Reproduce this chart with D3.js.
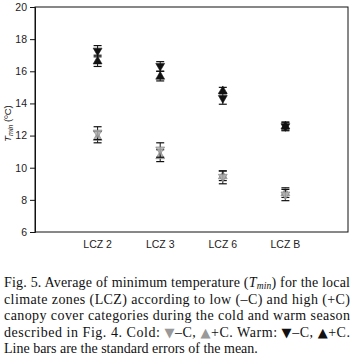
<!DOCTYPE html>
<html>
<head>
<meta charset="utf-8">
<script src="https://cdn.jsdelivr.net/npm/d3@7"></script>
<style>
  body { margin: 0; background: #fff; }
  svg { display: block; }
  .tick-label { font-family: "Liberation Sans", Arial, sans-serif; font-size: 10.5px; fill: #222; }
  .caption { font-family: "Liberation Serif", "Times New Roman", serif; font-size: 14px; fill: #111; }
</style>
</head>
<body>
<div id="wrapper"></div>
<script>
// categories and series (Tmin, degC)
const categories = ["LCZ 2", "LCZ 3", "LCZ 6", "LCZ B"];
const yTicks = [6, 8, 10, 12, 14, 16, 18, 20];

// warm season, low canopy cover (-C), black down triangle
const warmLow = [17.25, 16.3, 14.3, 12.55];
const warmLowSe = [0.35, 0.3, 0.35, 0.25];
// warm season, high canopy cover (+C), black up triangle
const warmHigh = [16.65, 15.7, 14.8, 12.6];
const warmHighSe = [0.35, 0.3, 0.2, 0.25];
// cold season, low canopy cover (-C), gray down triangle
const coldLow = [12.15, 11.1, 9.4, 8.3];
const coldLowSe = [0.4, 0.45, 0.4, 0.35];
// cold season, high canopy cover (+C), gray up triangle
const coldHigh = [11.9, 10.75, 9.5, 8.45];
const coldHighSe = [0.35, 0.37, 0.3, 0.3];

const captionLines = [
  "Fig. 5. Average of minimum temperature (T_min) for the local",
  "climate zones (LCZ) according to low (\u2013C) and high (+C)",
  "canopy cover categories during the cold and warm season",
  "described in Fig. 4. Cold: \u25BC\u2013C, \u25B2+C. Warm: \u25BC\u2013C, \u25B2+C.",
  "Line bars are the standard errors of the mean.",
];

const width = 354, height = 355;
const plot = { left: 35, right: 348, top: 7, bottom: 232 };

const svg = d3.select("#wrapper").append("svg")
  .attr("width", width)
  .attr("height", height);

const x = d3.scaleLinear().domain([0, categories.length + 1]).range([plot.left, plot.right]);
const y = d3.scaleLinear().domain([6, 20]).range([plot.bottom, plot.top]);

// frame
svg.append("rect")
  .attr("x", plot.left).attr("y", plot.top)
  .attr("width", plot.right - plot.left).attr("height", plot.bottom - plot.top)
  .attr("fill", "none").attr("stroke", "#111").attr("stroke-width", 1);

// y axis
const yAxis = svg.append("g")
  .attr("transform", `translate(${plot.left},0)`)
  .call(d3.axisLeft(y).tickValues(yTicks).tickSize(5).tickPadding(3));
yAxis.attr("font-family", null).attr("font-size", null);
yAxis.select(".domain").attr("stroke", "#111");
yAxis.selectAll(".tick line").attr("stroke", "#111");
yAxis.selectAll(".tick text").attr("class", "tick-label");

// x category labels
svg.selectAll(".cat")
  .data(categories)
  .join("text")
    .attr("class", "tick-label cat")
    .attr("x", (d, i) => x(i + 1))
    .attr("y", plot.bottom + 16)
    .attr("text-anchor", "middle")
    .text(d => d);

// y label
const yLabel = svg.append("text")
  .attr("transform", `translate(11, ${(plot.top + plot.bottom) / 2 + 4}) rotate(-90)`)
  .attr("text-anchor", "middle")
  .attr("class", "tick-label")
  .style("font-size", "9.5px");
yLabel.append("tspan").attr("font-style", "italic").text("T");
yLabel.append("tspan").attr("font-style", "italic").attr("font-size", "7px").attr("dy", 2).text("min");
yLabel.append("tspan").attr("dy", -2).text(" (\u00BAC)");

// series
const series = [
  { values: coldHigh, se: coldHighSe, dir: "up", fill: "#b0b0b0", stroke: "#7a7a7a" },
  { values: coldLow, se: coldLowSe, dir: "down", fill: "#b0b0b0", stroke: "#7a7a7a" },
  { values: warmHigh, se: warmHighSe, dir: "up", fill: "#111", stroke: "#111" },
  { values: warmLow, se: warmLowSe, dir: "down", fill: "#111", stroke: "#111" },
];

const capHalf = 4;
const triangle = d3.symbol().type(d3.symbolTriangle).size(34);

series.forEach(s => {
  const g = svg.append("g");
  const pts = s.values.map((v, i) => ({ x: x(i + 1), v, se: s.se[i] }));

  g.selectAll(".stem")
    .data(pts)
    .join("line")
      .attr("class", "stem")
      .attr("x1", d => d.x).attr("x2", d => d.x)
      .attr("y1", d => y(d.v + d.se)).attr("y2", d => y(d.v - d.se))
      .attr("stroke", "#111").attr("stroke-width", 1);

  [["cap-hi", 1], ["cap-lo", -1]].forEach(([cls, sign]) => {
    g.selectAll("." + cls)
      .data(pts)
      .join("line")
        .attr("class", cls)
        .attr("x1", d => d.x - capHalf).attr("x2", d => d.x + capHalf)
        .attr("y1", d => y(d.v + sign * d.se))
        .attr("y2", d => y(d.v + sign * d.se))
        .attr("stroke", "#111").attr("stroke-width", 1.2);
  });

  g.selectAll(".mark")
    .data(pts)
    .join("path")
      .attr("class", "mark")
      .attr("d", triangle)
      .attr("transform", d => `translate(${d.x},${y(d.v) + (s.dir === "up" ? 0.5 : -0.5)}) rotate(${s.dir === "up" ? 0 : 180})`)
      .attr("fill", s.fill)
      .attr("fill-opacity", s.dir === "down" && s.fill !== "#111" ? 0.85 : 1)
      .attr("stroke", s.stroke)
      .attr("stroke-width", 0.6);
});

// caption
const capY0 = 287, capDy = 16.5;
captionLines.forEach((line, i) => {
  const t = svg.append("text")
    .attr("class", "caption")
    .attr("x", 4)
    .attr("y", capY0 + i * capDy);
  if (i < captionLines.length - 1) {
    t.attr("textLength", 346).attr("lengthAdjust", "spacing");
  }
  if (i === 0) {
    const parts = line.split("T_min");
    t.append("tspan").text(parts[0]);
    t.append("tspan").attr("font-style", "italic").text("T");
    t.append("tspan").attr("font-style", "italic").attr("font-size", "9.5px").attr("dy", 2).text("min");
    t.append("tspan").attr("dy", -2).text(parts[1]);
  } else if (i === 3) {
    // colored triangle glyphs in the legend sentence
    const tokens = line.split(/([\u25BC\u25B2])/);
    let tri = 0;
    tokens.forEach(tok => {
      if (tok === "\u25BC" || tok === "\u25B2") {
        t.append("tspan")
          .attr("fill", tri < 2 ? "#999" : "#111")
          .attr("font-family", "DejaVu Sans")
          .attr("font-size", "13px")
          .text(tok);
        tri++;
      } else if (tok) {
        t.append("tspan").text(tok);
      }
    });
  } else {
    t.text(line);
  }
});
</script>
</body>
</html>
